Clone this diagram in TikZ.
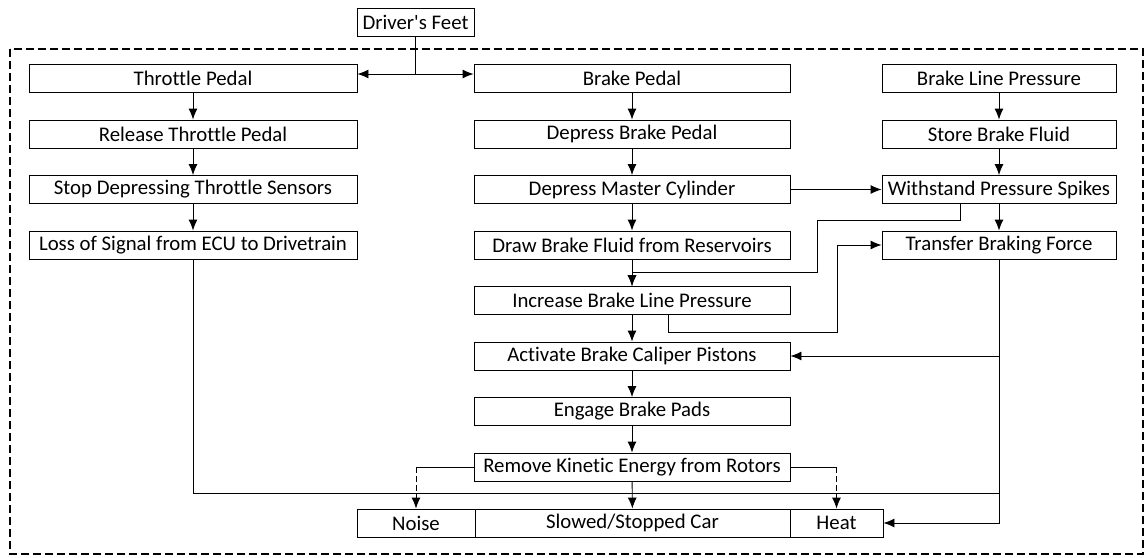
\documentclass[tikz,border=0pt]{standalone}
\usepackage{fontspec}
\setmainfont{Carlito}[Ligatures={NoCommon}]
\usetikzlibrary{arrows.meta}
\usetikzlibrary{positioning}

\begin{document}
\begin{tikzpicture}[x=1pt, y=-1pt,
    blk/.style={draw, line width=0.9pt, minimum height=28pt, inner sep=0pt,
      font=\fontsize{20.8}{24}\selectfont},
    lft/.style={blk, minimum width=328pt},
    mid/.style={blk, minimum width=316pt},
    rgt/.style={blk, minimum width=234pt},
    flow/.style={-{Latex[length=11pt,width=9pt]}, line width=0.9pt},
    lnk/.style={line width=0.9pt},
    side/.style={flow, dash pattern=on 6pt off 3pt}]
  \useasboundingbox (0,0) rectangle (1146,557);
  \draw[line width=1.6pt, dash pattern=on 8pt off 4pt] (10,49) rectangle (1143,554); %

  \node[blk, minimum width=117pt] (feet) at (415.5,22) {Driver\textquotesingle s Feet} ; %
  % throttle side
  \node[lft] (thr) at (193,78) {Throttle Pedal} ; %
  \node[lft] (relthr) at (193,134) {Release Throttle Pedal} ; %
  \node[lft] (stopthr) at (193,189.5) {Stop Depressing Throttle Sensors} ; %
  \node[lft] (loss) at (193,245) {Loss of Signal from ECU to Drivetrain} ; %
  % brake side
  \node[mid] (brk) at (632,78) {Brake Pedal} ; %
  \node[mid] (dep) at (632,134) {Depress Brake Pedal} ; %
  \node[mid] (master) at (632,189.5) {Depress Master Cylinder} ; %
  \node[mid] (drawf) at (632,245) {Draw Brake Fluid from Reservoirs} ; %
  \node[mid] (incr) at (632,300.5) {Increase Brake Line Pressure} ; %
  \node[mid] (calip) at (632,356) {Activate Brake Caliper Pistons} ; %
  \node[mid] (pads) at (632,411.5) {Engage Brake Pads} ; %
  \node[mid] (remove) at (632,467) {Remove Kinetic Energy from Rotors} ; %
  % brake line
  \node[rgt] (blp) at (999,78) {Brake Line Pressure} ; %
  \node[rgt] (store) at (999,134) {Store Brake Fluid} ; %
  \node[rgt] (spikes) at (999,189.5) {Withstand Pressure Spikes} ; %
  \node[rgt] (transfer) at (999,245) {Transfer Braking Force} ; %
  % outputs
  \node[blk, minimum width=118pt] (noise) at (416,523) {Noise} ; %
  \node[blk, minimum width=315pt] (slowed) at (632.5,523) {Slowed/Stopped Car} ; %
  \node[blk, minimum width=93pt] (heat) at (836.5,523) {Heat} ; %

  \coordinate (fork) at (415.5,74) ;
  \coordinate (bus) at (0,493) ;
  \coordinate (jog1) at (817,272) ;
  \coordinate (jog2) at (837,332) ;

  \draw[lnk] (feet) -- (fork) ; %
  \draw[flow] (fork) -- (fork -| thr.east) ; %
  \draw[flow] (fork) -- (fork -| brk.west) ; %

  \draw[flow] (thr) -- (relthr) ; %
  \draw[flow] (relthr) -- (stopthr) ; %
  \draw[flow] (stopthr) -- (loss) ; %

  \draw[flow] (brk) -- (dep) ; %
  \draw[flow] (dep) -- (master) ; %
  \draw[flow] (master) -- (drawf) ; %
  \draw[flow] (drawf) -- (incr) ; %
  \draw[flow] (incr) -- (calip) ; %
  \draw[flow] (calip) -- (pads) ; %
  \draw[flow] (pads) -- (remove) ; %
  \draw[flow] (remove) -- (slowed) ; %

  \draw[flow] (blp) -- (store) ; %
  \draw[flow] (store) -- (spikes) ; %
  \draw[flow] (spikes) -- (transfer) ; %
  \draw[flow] (master) -- (spikes) ; %

  \draw[flow] ([xshift=-39pt]spikes.south) -- ++(0,16) -| (jog1) -| (incr.north) ; %
  \draw[flow] ([xshift=36pt]incr.south) |- (jog2) |- (transfer.west) ; %
  \draw[flow] (transfer.south) |- (heat.east) ; %
  \draw[flow] (transfer.south |- calip.east) -- (calip.east) ; %
  \draw[lnk] (loss.south) |- (bus -| transfer.south) ; %

  \draw[lnk] (remove.west) -- (remove.west -| noise.north) ; %
  \draw[side] (remove.west -| noise.north) -- (noise.north) ; %
  \draw[lnk] (remove.east) -- (remove.east -| heat.north) ; %
  \draw[side] (remove.east -| heat.north) -- (heat.north) ; %
\end{tikzpicture}
\end{document}
